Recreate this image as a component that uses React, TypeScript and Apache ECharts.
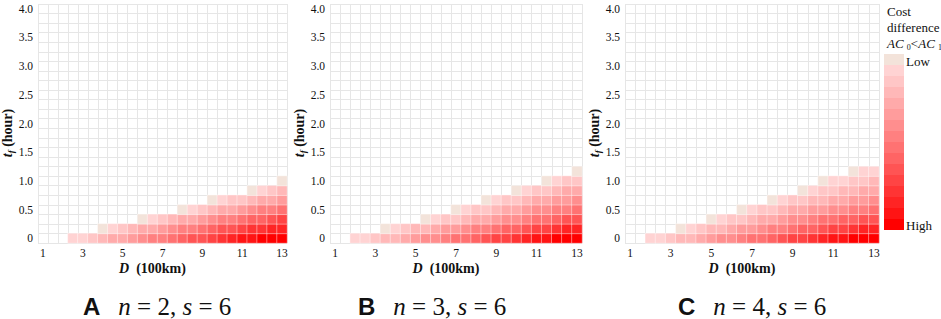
import React, { useEffect, useRef } from 'react';
import * as echarts from 'echarts';

// ---- data ----
const D_CATEGORIES = ['1', '1.5', '2', '2.5', '3', '3.5', '4', '4.5', '5', '5.5', '6', '6.5', '7', '7.5', '8', '8.5', '9', '9.5', '10', '10.5', '11', '11.5', '12', '12.5', '13'];
const T_CATEGORIES = ['0', '0.17', '0.33', '0.5', '0.67', '0.83', '1.0', '1.17', '1.33', '1.5', '1.67', '1.83', '2.0', '2.17', '2.33', '2.5', '2.67', '2.83', '3.0', '3.17', '3.33', '3.5', '3.67', '3.83', '4.0'];

// first D-column index of the coloured cells in each t-row (row 0 = t 0)
const PANEL_A_START = [3, 6, 10, 14, 17, 21, 24];
const PANEL_A_LEVELS = [
  [2, 2, 3, 4, 5, 5, 6, 7, 8, 8, 9, 10, 11, 11, 12, 13, 14, 15, 15, 16, 16, 16],
  [1, 2, 3, 4, 5, 5, 6, 7, 8, 8, 9, 10, 11, 11, 12, 13, 13, 14, 14],
  [1, 2, 3, 4, 5, 5, 6, 7, 8, 8, 9, 10, 10, 11, 12],
  [1, 2, 3, 4, 5, 5, 6, 7, 8, 8, 9],
  [1, 2, 3, 3, 4, 5, 5, 6],
  [1, 2, 3, 4],
  [1],
];

const PANEL_B_START = [2, 5, 9, 12, 15, 18, 21, 24];
const PANEL_B_LEVELS = [
  [2, 2, 3, 4, 4, 5, 6, 7, 7, 8, 9, 9, 10, 11, 12, 12, 13, 14, 15, 15, 16, 16, 16],
  [1, 2, 3, 4, 4, 5, 6, 6, 7, 8, 8, 9, 10, 10, 11, 12, 12, 13, 14, 14],
  [1, 2, 3, 3, 4, 5, 5, 6, 7, 7, 8, 9, 9, 10, 11, 11],
  [1, 2, 3, 3, 4, 5, 5, 6, 7, 7, 8, 8, 9],
  [1, 2, 3, 3, 4, 5, 5, 6, 6, 7],
  [1, 2, 3, 3, 4, 5, 5],
  [1, 2, 3, 3],
  [1],
];

const PANEL_C_START = [2, 5, 8, 11, 14, 17, 19, 22];
const PANEL_C_LEVELS = [
  [2, 2, 3, 4, 4, 5, 6, 7, 7, 8, 9, 9, 10, 11, 12, 12, 13, 14, 15, 15, 16, 16, 16],
  [1, 2, 3, 4, 4, 5, 6, 6, 7, 8, 8, 9, 10, 10, 11, 12, 12, 13, 14, 14],
  [1, 2, 3, 3, 4, 5, 5, 6, 7, 7, 8, 9, 9, 10, 10, 11, 11],
  [1, 2, 3, 3, 4, 5, 5, 6, 6, 7, 7, 8, 8, 9],
  [1, 2, 3, 3, 4, 4, 5, 5, 6, 6, 7],
  [1, 2, 3, 3, 4, 4, 5, 5],
  [1, 2, 2, 3, 3, 4],
  [1, 2, 2],
];

const LEVELS = [1, 2, 3, 4, 5, 6, 7, 8, 9, 10, 11, 12, 13, 14, 15, 16];
const LEVEL_COLORS = ['#f3e3da', '#ffd3d3', '#ffc6c6', '#ffb8b8', '#ffaaaa', '#ff9c9c', '#ff8e8e', '#ff8080', '#ff7272', '#ff6464', '#ff5454', '#ff4444', '#ff3434', '#ff2424', '#ff1414', '#ff0000'];

const PANEL_LETTERS = ['A', 'B', 'C'];
const N_VALUES = ['2', '3', '4'];
const S_VALUE = '6';

// ---- layout ----
const SERIF = "'Liberation Serif', 'Times New Roman', serif";
const SANS = "'Liberation Sans', Arial, sans-serif";
const TEXT_COLOR = '#111111';
const GRID_TOP = 4;
const GRID_HEIGHT = 239;
const LAYOUT = [
  { left: 38, width: 249, caption: 83 },
  { left: 330, width: 252, caption: 358 },
  { left: 625, width: 254, caption: 678 },
];

function cells(start: number[], levels: number[][]) {
  const out: number[][] = [];
  levels.forEach((row, r) => row.forEach((v, i) => out.push([start[r] + i, r, v])));
  return out;
}

const PANEL_DATA = [
  cells(PANEL_A_START, PANEL_A_LEVELS),
  cells(PANEL_B_START, PANEL_B_LEVELS),
  cells(PANEL_C_START, PANEL_C_LEVELS),
];

function tok(extra: any) {
  return { fontFamily: SERIF, fill: TEXT_COLOR, color: TEXT_COLOR, ...extra };
}

function buildOption() {
  const grid = LAYOUT.map((l) => ({ left: l.left, width: l.width, top: GRID_TOP, height: GRID_HEIGHT }));
  const axisLabelBase = { fontFamily: SERIF, fontSize: 11.5, color: TEXT_COLOR };
  const xAxis = LAYOUT.map((_, i) => ({
    type: 'category',
    gridIndex: i,
    data: D_CATEGORIES,
    axisLine: { show: false },
    axisTick: { show: false },
    axisLabel: { ...axisLabelBase, interval: 3, margin: 4 },
    splitLine: { show: true, interval: 0, lineStyle: { color: '#e6e6e6', width: 1 } },
  }));
  const yAxis = LAYOUT.map((_, i) => ({
    type: 'category',
    gridIndex: i,
    data: T_CATEGORIES,
    axisLine: { show: false },
    axisTick: { show: false },
    axisLabel: { ...axisLabelBase, interval: 2, margin: 5 },
    splitLine: { show: true, interval: 0, lineStyle: { color: '#e6e6e6', width: 1 } },
  }));
  const series = PANEL_DATA.map((data, i) => ({
    type: 'heatmap',
    xAxisIndex: i,
    yAxisIndex: i,
    data,
    itemStyle: { borderColor: 'rgba(255,255,255,0.4)', borderWidth: 1 },
    emphasis: { disabled: true },
  }));

  const graphic: any[] = [];
  LAYOUT.forEach((l, i) => {
    // y-axis title
    graphic.push({
      type: 'text',
      x: l.left - 31,
      y: 133,
      rotation: Math.PI / 2,
      style: {
        text: '{t|t}{f|f}{h| (hour)}',
        align: 'center',
        verticalAlign: 'middle',
        fill: TEXT_COLOR,
        rich: {
          t: tok({ fontSize: 14, fontWeight: 'bold', fontStyle: 'italic' }),
          f: tok({ fontSize: 9, fontWeight: 'bold', fontStyle: 'italic', padding: [8, 0, 0, 0] }),
          h: tok({ fontSize: 14, fontWeight: 'bold' }),
        },
      },
    });
    // x-axis title
    graphic.push({
      type: 'text',
      x: l.left + l.width / 2 - 10,
      y: 268,
      style: {
        text: '{d|D}{h|  (100km)}',
        align: 'center',
        verticalAlign: 'middle',
        fill: TEXT_COLOR,
        rich: {
          d: tok({ fontSize: 14, fontWeight: 'bold', fontStyle: 'italic' }),
          h: tok({ fontSize: 14, fontWeight: 'bold' }),
        },
      },
    });
    // caption
    graphic.push({
      type: 'text',
      x: l.caption,
      y: 306,
      style: {
        text: `{l|${PANEL_LETTERS[i]}}{i|n}{r| = ${N_VALUES[i]}, }{i|s}{r| = ${S_VALUE}}`,
        align: 'left',
        verticalAlign: 'middle',
        fill: TEXT_COLOR,
        rich: {
          l: { fontFamily: SANS, fontSize: 24, fontWeight: 'bold', fill: TEXT_COLOR, color: TEXT_COLOR, padding: [0, 18, 0, 0] },
          i: tok({ fontSize: 25, fontStyle: 'italic' }),
          r: tok({ fontSize: 25 }),
        },
      },
    });
  });

  // legend title and end labels
  const legendText = (text: string, x: number, y: number) => ({
    type: 'text',
    x,
    y,
    style: { text, fontFamily: SERIF, fontSize: 13, fill: TEXT_COLOR, align: 'left', verticalAlign: 'middle' },
  });
  graphic.push(legendText('Cost', 887, 11));
  graphic.push(legendText('difference', 887, 27));
  graphic.push({
    type: 'text',
    x: 887,
    y: 43,
    style: {
      text: '{i|AC }{s|0}{n|<}{i|AC }{s|1}',
      align: 'left',
      verticalAlign: 'middle',
      fill: TEXT_COLOR,
      rich: {
        i: tok({ fontSize: 13, fontStyle: 'italic' }),
        s: tok({ fontSize: 8, padding: [8, 0, 0, 0] }),
        n: tok({ fontSize: 13 }),
      },
    },
  });
  graphic.push(legendText('Low', 906, 61));
  graphic.push(legendText('High', 906, 225));

  return {
    animation: false,
    backgroundColor: '#ffffff',
    grid,
    xAxis,
    yAxis,
    visualMap: {
      type: 'piecewise',
      seriesIndex: [0, 1, 2],
      pieces: LEVELS.map((v, i) => ({ value: v, color: LEVEL_COLORS[i] })),
      orient: 'vertical',
      inverse: true,
      left: 884,
      top: 54,
      padding: 0,
      itemWidth: 20,
      itemHeight: 11,
      itemGap: 0,
      itemSymbol: 'rect',
      showLabel: false,
      selectedMode: false,
    },
    series,
    graphic,
  };
}

export default function App() {
  const ref = useRef<HTMLDivElement>(null);
  useEffect(() => {
    if (!ref.current) return;
    const chart = echarts.init(ref.current, null, { renderer: 'svg' });
    chart.setOption(buildOption() as any);
    return () => chart.dispose();
  }, []);
  return (
    <div
      ref={ref}
      style={{ position: 'fixed', left: 0, top: 0, width: 941, height: 319, background: '#ffffff' }}
    />
  );
}
